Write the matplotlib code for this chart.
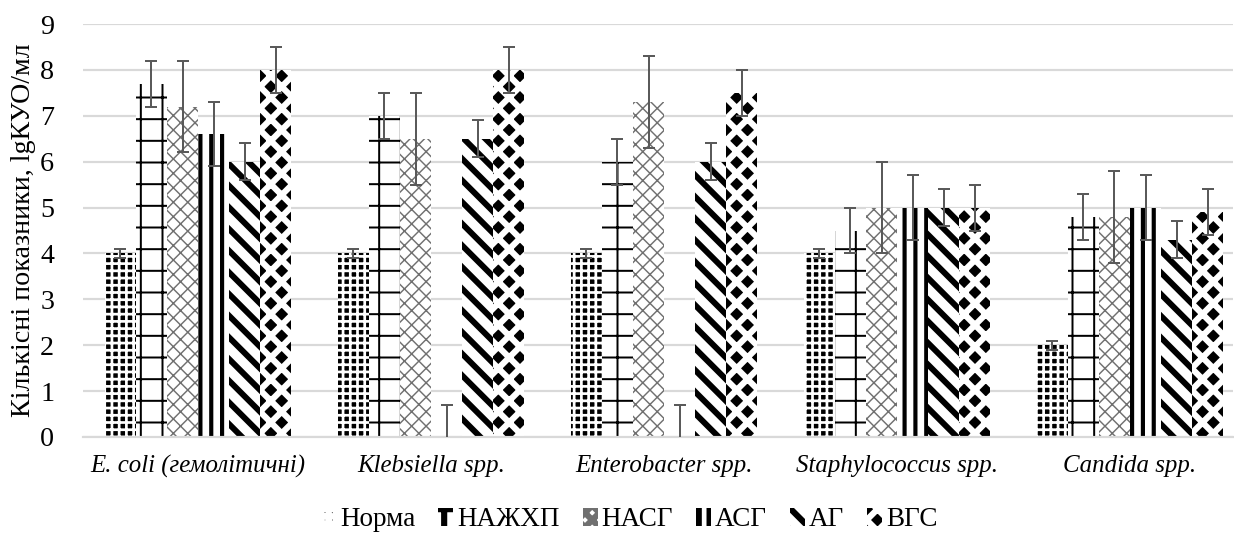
import numpy as np
import matplotlib
matplotlib.use("Agg")
import matplotlib.pyplot as plt

# data
categories = ['E. coli (гемолітичні)', 'Klebsiella spp.', 'Enterobacter spp.',
              'Staphylococcus spp.', 'Candida spp.']
groups = ['Норма', 'НАЖХП', 'НАСГ', 'АСГ', 'АГ', 'ВГС']

norma = [4.0, 4.0, 4.0, 4.0, 2.0]
nazhkhp = [7.7, 7.0, 6.0, 4.5, 4.8]
nasg = [7.2, 6.5, 7.3, 5.0, 4.8]
asg = [6.6, 0.0, 0.0, 5.0, 5.0]
ag = [6.0, 6.5, 6.0, 5.0, 4.3]
vgs = [8.0, 8.0, 7.5, 5.0, 4.9]

err_norma = [0.1, 0.1, 0.1, 0.1, 0.1]
err_nazhkhp = [0.5, 0.5, 0.5, 0.5, 0.5]
err_nasg = [1.0, 1.0, 1.0, 1.0, 1.0]
err_asg = [0.7, 0.7, 0.7, 0.7, 0.7]
err_ag = [0.4, 0.4, 0.4, 0.4, 0.4]
err_vgs = [0.5, 0.5, 0.5, 0.5, 0.5]

values = [norma, nazhkhp, nasg, asg, ag, vgs]
errors = [err_norma, err_nazhkhp, err_nasg, err_asg, err_ag, err_vgs]

# (face, hatch colour, hatch, hatch linewidth)
styles = [
    ('black', 'white', '+++', 1.5),
    ('white', 'black', '+', 1.1),
    ('white', '#707070', 'xxx', 0.8),
    ('white', 'black', '||', 2.3),
    ('white', 'black', '\\\\', 3.3),
    ('black', 'white', 'xx', 3.4),
]

DPI = 130
plt.rcParams['font.family'] = ['Liberation Serif', 'DejaVu Serif']
fig = plt.figure(figsize=(1234 / DPI, 538 / DPI), dpi=DPI)
ax = fig.add_axes([83 / 1234, 1 - 437 / 538, 1150 / 1234, 413 / 538])

x = np.arange(len(categories))
n = len(groups)
width = 0.8 / n

handles = []
for i, (vals, errs, st) in enumerate(zip(values, errors, styles)):
    face, hcol, hatch, hlw = st
    plt.rcParams['hatch.linewidth'] = hlw
    bars = ax.bar(x + (i - (n - 1) / 2) * width, vals, width,
                  color=face, edgecolor=hcol, hatch=hatch, linewidth=0,
                  label=groups[i], zorder=2)
    for b in bars:
        if hasattr(b, 'set_hatch_linewidth'):
            b.set_hatch_linewidth(hlw)
    handles.append(bars)
    ax.errorbar(x + (i - (n - 1) / 2) * width, vals, yerr=errs, fmt='none',
                ecolor='#595959', elinewidth=1.1, capsize=3.5, capthick=1.1,
                zorder=3)

ax.set_ylim(0, 9)
ax.set_xlim(-0.494, 4.442)
ax.set_yticks(range(10))
ax.yaxis.grid(True, color='#d9d9d9', linewidth=1.2, zorder=0)
ax.set_axisbelow(True)
for s in ['top', 'right', 'left']:
    ax.spines[s].set_visible(False)
ax.spines['bottom'].set_color('#d9d9d9')
ax.spines['bottom'].set_linewidth(1.2)
ax.tick_params(axis='both', length=0, labelsize=15.5)
ax.tick_params(axis='y', pad=16)
ax.tick_params(axis='x', pad=10)
ax.set_xticks(x)
ax.set_xticklabels(categories, fontstyle='italic', fontsize=13.8)

ax.set_ylabel('Кількісні показники, lgКУО/мл', fontsize=15.5)
ax.yaxis.set_label_coords(-0.041, 0.5)

leg = fig.legend(handles=handles, labels=groups, loc='center',
                 bbox_to_anchor=(0.51, 1 - 520 / 538), ncol=6, frameon=False,
                 fontsize=15, handlelength=0.55, handleheight=0.6,
                 handletextpad=0.15, columnspacing=0.85)
for t in leg.get_texts():
    t.set_fontfamily(['Liberation Serif', 'DejaVu Serif'])

fig.savefig('out.png', dpi=DPI)
